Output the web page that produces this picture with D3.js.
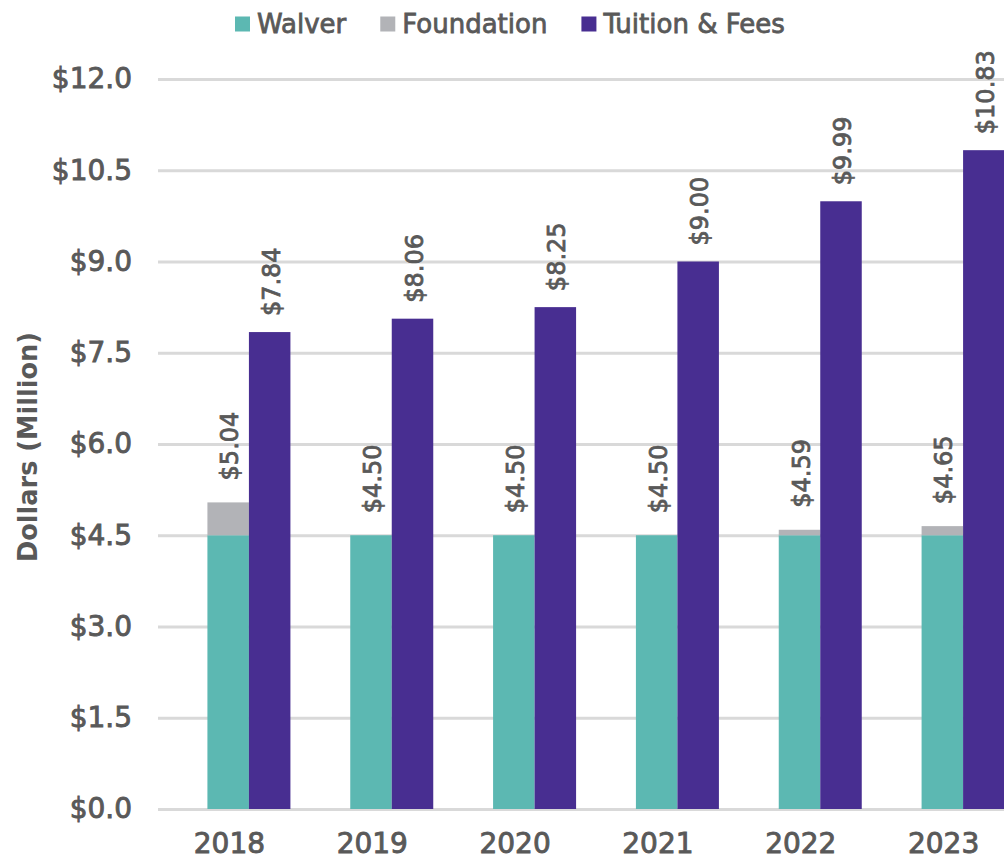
<!DOCTYPE html>
<html>
<head>
<meta charset="utf-8">
<script src="https://cdn.jsdelivr.net/npm/d3@7"></script>
<style>
  body { margin: 0; background: #fff; }
  svg text { font-family: "DejaVu Sans", Verdana, sans-serif; fill: #595959; }
</style>
</head>
<body>
<svg id="chart" width="1004" height="861"></svg>
<script>
// chart data (Million dollars)
var years = ["2018", "2019", "2020", "2021", "2022", "2023"];
var walver = [4.50, 4.50, 4.50, 4.50, 4.50, 4.50];
var foundation = [0.54, 0.00, 0.00, 0.00, 0.09, 0.15];
var tuition = [7.84, 8.06, 8.25, 9.00, 9.99, 10.83];
var yTicks = [0, 1.5, 3.0, 4.5, 6.0, 7.5, 9.0, 10.5, 12.0];
var seriesNames = ["Walver", "Foundation", "Tuition & Fees"];
var seriesColors = ["#5cb8b2", "#b2b3b7", "#482e91"];

var svg = d3.select("#chart");

// plot area (right side runs past the picture edge)
var pLeft = 158, pRight = 1015, pTop = 79, pBottom = 809;

var x = d3.scaleBand().domain(years).range([pLeft, pRight]);
var sub = d3.scaleBand().domain(["stack", "tuition"]).range([-22, 61]);
var y = d3.scaleLinear().domain([0, 12]).range([pBottom, pTop]);
var color = d3.scaleOrdinal().domain(seriesNames).range(seriesColors);

var center = function(yr) { return x(yr) + x.bandwidth() / 2; };

// y axis with gridlines
var yAxis = svg.append("g")
    .attr("transform", "translate(" + pLeft + ",0)")
    .call(d3.axisLeft(y).tickValues(yTicks)
        .tickSize(-(pRight - pLeft)).tickPadding(26)
        .tickFormat(function(d) { return "$" + d.toFixed(1); }));
yAxis.select(".domain").remove();
yAxis.selectAll("line").attr("stroke", "#d9d9d9").attr("stroke-width", 3);
yAxis.selectAll("text")
    .style("font-size", "28px")
    .style("fill", "#595959")
    .attr("stroke", "#595959").attr("stroke-width", 0.9);

// x axis labels
var xAxis = svg.append("g")
    .attr("transform", "translate(0," + pBottom + ")")
    .call(d3.axisBottom(x).tickSize(0).tickPadding(24));
xAxis.select(".domain").remove();
xAxis.selectAll("text")
    .style("font-size", "28px")
    .style("fill", "#595959")
    .attr("stroke", "#595959").attr("stroke-width", 0.9);

// stacked walver + foundation
var rows = years.map(function(yr, i) {
  return { year: yr, Walver: walver[i], Foundation: foundation[i], total: walver[i] + foundation[i] };
});
var stack = d3.stack().keys(["Walver", "Foundation"]);

var layer = svg.selectAll(".layer")
  .data(stack(rows))
  .enter().append("g")
    .attr("class", "layer")
    .attr("fill", function(d) { return color(d.key); });

layer.selectAll("rect")
  .data(function(d) { return d; })
  .enter().append("rect")
    .attr("x", function(d) { return center(d.data.year) + sub("stack"); })
    .attr("width", sub.bandwidth())
    .attr("y", function(d) { return y(d[1]); })
    .attr("height", function(d) { return y(d[0]) - y(d[1]); });

// tuition bars
svg.append("g").selectAll("rect")
  .data(years)
  .enter().append("rect")
    .attr("fill", color("Tuition & Fees"))
    .attr("x", function(d) { return center(d) + sub("tuition"); })
    .attr("width", sub.bandwidth())
    .attr("y", function(d, i) { return y(tuition[i]); })
    .attr("height", function(d, i) { return pBottom - y(tuition[i]); });

// rotated value labels
function valueLabel(cx, cy, txt) {
  svg.append("text")
    .attr("transform", "translate(" + cx + "," + cy + ") rotate(-90)")
    .attr("dy", "0.42em")
    .style("font-size", "24px")
    .attr("stroke", "#595959").attr("stroke-width", 0.8)
    .text(txt);
}
rows.forEach(function(d) {
  valueLabel(center(d.year) + sub("stack") + sub.bandwidth() / 2, y(d.total) - 22, "$" + d.total.toFixed(2));
});
years.forEach(function(yr, i) {
  valueLabel(center(yr) + sub("tuition") + sub.bandwidth() / 2, y(tuition[i]) - 16, "$" + tuition[i].toFixed(2));
});

// y axis title
svg.append("text")
    .attr("transform", "translate(28," + 447 + ") rotate(-90)")
    .attr("text-anchor", "middle")
    .attr("dy", "0.35em")
    .attr("textLength", 230)
    .attr("lengthAdjust", "spacingAndGlyphs")
    .style("font-size", "27px")
    .style("font-weight", "bold")
    .text("Dollars (Million)");

// legend
var legend = svg.append("g").attr("transform", "translate(235,24)");
var lx = 0;
seriesNames.forEach(function(name) {
  var item = legend.append("g").attr("transform", "translate(" + lx + ",0)");
  item.append("rect")
    .attr("y", -7.5).attr("width", 15).attr("height", 15)
    .attr("fill", color(name));
  var t = item.append("text")
    .attr("x", 22).attr("dy", "0.36em")
    .style("font-size", "26px")
    .attr("stroke", "#595959").attr("stroke-width", 0.8)
    .text(name);
  lx += 22 + t.node().getComputedTextLength() + 34;
});
</script>
</body>
</html>
